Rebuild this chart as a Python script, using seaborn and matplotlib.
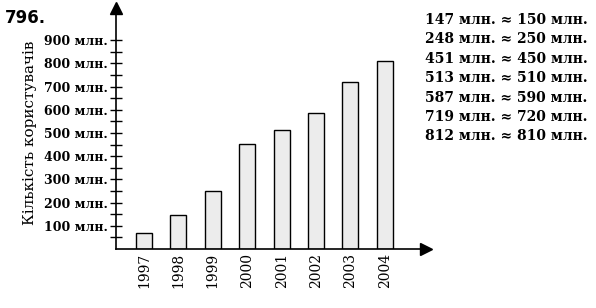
import matplotlib
matplotlib.use("Agg")
import matplotlib.pyplot as plt
import seaborn as sns
import pandas as pd
from matplotlib.ticker import FixedLocator

years = ["1997", "1998", "1999", "2000", "2001", "2002", "2003", "2004"]
users = [70, 147, 248, 451, 513, 587, 719, 812]
ytick_values = [100, 200, 300, 400, 500, 600, 700, 800, 900]
ytick_labels = [f"{v} млн." for v in ytick_values]
minor_values = [50, 150, 250, 350, 450, 550, 650, 750, 850]
exact = [147, 248, 451, 513, 587, 719, 812]
rounded = [150, 250, 450, 510, 590, 720, 810]

sns.set_theme(style="white")
plt.rcParams['font.family'] = ['DejaVu Serif', 'DejaVu Sans']

df = pd.DataFrame({"year": years, "users": users})

W, H = 596, 308
fig = plt.figure(figsize=(W / 100, H / 100), dpi=100)
ax = fig.add_axes([116 / W, (H - 249) / H, 310 / W, 241 / H])

sns.barplot(data=df, x="year", y="users", color="#ececec", saturation=1,
            edgecolor="black", linewidth=1.0, width=0.47, ax=ax)

ax.set_xlim(-0.814, 8.198)
ax.set_ylim(0, 1039)
for s in ["top", "right"]:
    ax.spines[s].set_visible(False)
for s in ["left", "bottom"]:
    ax.spines[s].set_color("black")
    ax.spines[s].set_linewidth(1.2)

ax.yaxis.set_major_locator(FixedLocator(ytick_values))
ax.set_yticklabels(ytick_labels, fontsize=9, fontweight="bold")
ax.yaxis.set_minor_locator(FixedLocator(minor_values))
ax.tick_params(axis="y", which="both", direction="inout", length=8, width=1,
               color="black", left=True, pad=2, labelcolor="black")
ax.tick_params(axis="x", length=0, pad=3, labelsize=10, labelrotation=90,
               labelcolor="black")
ax.set_xlabel("")
ax.set_ylabel("")

# axis arrows
ax.plot(1, 0, ">", color="black", markersize=8, transform=ax.transAxes, clip_on=False)
ax.plot(0, 1, "^", color="black", markersize=8, transform=ax.transAxes, clip_on=False)

fig.text(30 / W, 1 - 133 / H, "Кількість користувачів", rotation=90,
         ha="center", va="center", fontsize=11, color="black")
fig.text(5 / W, 1 - 18 / H, "796.", fontsize=12, fontweight="bold",
         family="DejaVu Sans", ha="left", va="center", color="black")

for i, (a, b) in enumerate(zip(exact, rounded)):
    y = 20 + 19.4 * i
    fig.text(425 / W, 1 - y / H, f"{a} млн. ≈ {b} млн.", fontsize=10,
             fontweight="bold", ha="left", va="center", color="black")

fig.savefig("out.png", dpi=100)
